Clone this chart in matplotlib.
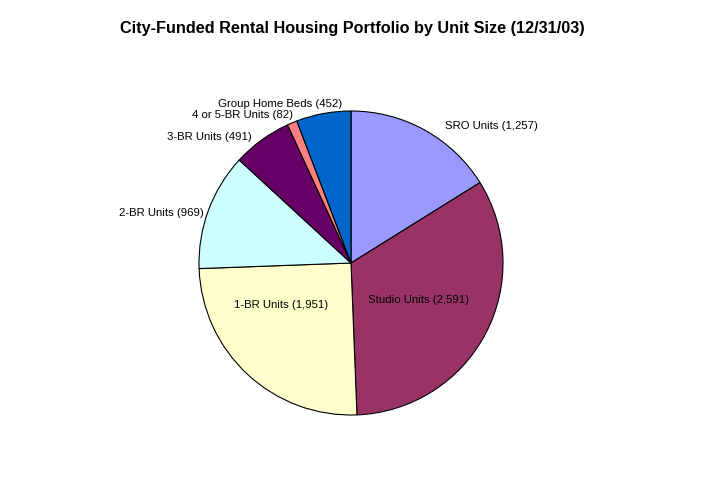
import matplotlib.pyplot as plt

plt.rcParams["font.family"] = ["Liberation Sans", "DejaVu Sans"]

categories = ["SRO Units", "Studio Units", "1-BR Units", "2-BR Units",
              "3-BR Units", "4 or 5-BR Units", "Group Home Beds"]
units = [1257, 2591, 1951, 969, 491, 82, 452]
colors = ["#9999FF", "#993366", "#FFFFCC", "#CCFFFF", "#660066", "#FF8080", "#0066CC"]

# label anchor points in pixel space (x, y from top) and alignment
label_pos = [(445, 126, "left"), (418, 300, "center"), (281, 305, "center"),
             (204, 213, "right"), (252, 137, "right"), (293, 115, "right"),
             (342, 104, "right")]

W, H = 702, 480
fig = plt.figure(figsize=(W / 100, H / 100), dpi=100)
ax = fig.add_axes([0, 0, 1, 1])
ax.set_xlim(0, W)
ax.set_ylim(0, H)
ax.axis("off")

ax.pie(units, colors=colors, startangle=90, counterclock=False,
       center=(351, H - 263), radius=152,
       wedgeprops=dict(edgecolor="black", linewidth=0.8))
ax.set_aspect("equal")
ax.set_xlim(0, W)
ax.set_ylim(0, H)

for name, val, (x, y, ha) in zip(categories, units, label_pos):
    ax.text(x, H - y, f"{name} ({val:,})", ha=ha, va="center", fontsize=8.2)

ax.text(352, H - 29, "City-Funded Rental Housing Portfolio by Unit Size (12/31/03)",
        ha="center", va="center", fontsize=11.7, fontweight="bold")

fig.savefig("out.png", dpi=100)
